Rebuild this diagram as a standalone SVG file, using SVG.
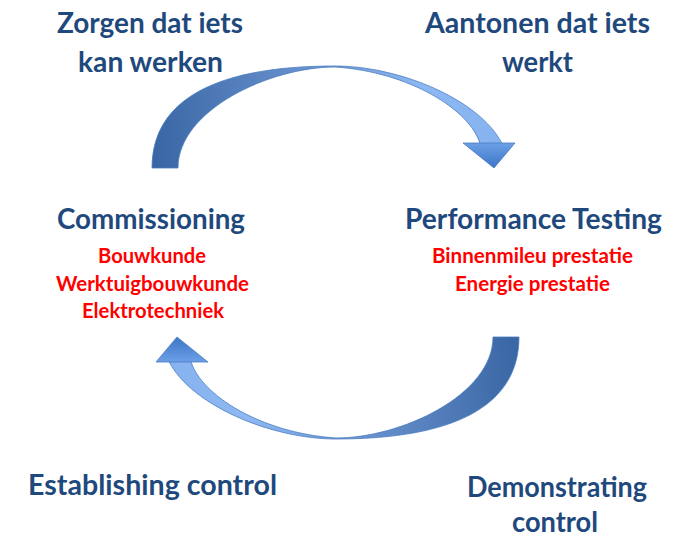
<svg xmlns="http://www.w3.org/2000/svg" width="686" height="538" viewBox="0 0 686 538">
<style>
.h{font-family:Lato,"Open Sans","Liberation Sans",sans-serif;font-weight:bold;font-size:28px;fill:#1F497D}
.r{font-family:Lato,"Open Sans","Liberation Sans",sans-serif;font-weight:bold;font-size:20px;fill:#FF0000}
.shaft{fill:url(#gs);stroke:#4a7cc0;stroke-width:0.8}
.head{fill:url(#gh);stroke:#4a7cc0;stroke-width:0.8}
</style>
<defs>
<linearGradient id="gs" gradientUnits="userSpaceOnUse" x1="152" y1="168" x2="500" y2="125">
<stop offset="0" stop-color="#3865a3"/>
<stop offset="0.45" stop-color="#6690cc"/>
<stop offset="0.8" stop-color="#8db8f3"/>
<stop offset="1" stop-color="#86b2ef"/>
</linearGradient>
<linearGradient id="gh" gradientUnits="userSpaceOnUse" x1="0" y1="143" x2="0" y2="168">
<stop offset="0" stop-color="#6c9fe6"/>
<stop offset="1" stop-color="#3c76c8"/>
</linearGradient>
<g id="arrow">
<path class="shaft" d="M152,168 C152,100 215,66 335,66 C400,66 480,100 502,143.5 L480,143.5 C470,110 410,72 335,67 C270,67 178,110 178,168 Z"/>
<path class="head" d="M463,143 L515,143 L494,168 Z"/>
</g>
</defs>
<g id="connectors">
<use href="#arrow"/>
<use href="#arrow" transform="rotate(180 335.5 252.5)"/>
</g>
<g id="zorgen">
<text class="h" x="57" y="33" textLength="186" lengthAdjust="spacingAndGlyphs">Zorgen dat iets</text>
<text class="h" x="78" y="72" textLength="145" lengthAdjust="spacingAndGlyphs">kan werken</text>
</g>
<g id="aantonen">
<text class="h" x="425" y="33" textLength="225" lengthAdjust="spacingAndGlyphs">Aantonen dat iets</text>
<text class="h" x="502" y="72" textLength="71" lengthAdjust="spacingAndGlyphs">werkt</text>
</g>
<g id="commissioning">
<text class="h" x="57" y="229" textLength="188" lengthAdjust="spacingAndGlyphs">Commissioning</text>
<text class="r" x="98" y="263" textLength="108" lengthAdjust="spacingAndGlyphs">Bouwkunde</text>
<text class="r" x="56" y="291" textLength="193" lengthAdjust="spacingAndGlyphs">Werktuigbouwkunde</text>
<text class="r" x="82" y="318" textLength="142" lengthAdjust="spacingAndGlyphs">Elektrotechniek</text>
</g>
<g id="performance">
<text class="h" x="405" y="229" textLength="257" lengthAdjust="spacingAndGlyphs">Performance Testing</text>
<text class="r" x="432" y="263" textLength="201" lengthAdjust="spacingAndGlyphs">Binnenmileu prestatie</text>
<text class="r" x="455" y="291" textLength="155" lengthAdjust="spacingAndGlyphs">Energie prestatie</text>
</g>
<g id="establishing">
<text class="h" x="28" y="495" textLength="249" lengthAdjust="spacingAndGlyphs">Establishing control</text>
</g>
<g id="demonstrating">
<text class="h" x="467" y="497" textLength="180" lengthAdjust="spacingAndGlyphs">Demonstrating</text>
<text class="h" x="512" y="532" textLength="86" lengthAdjust="spacingAndGlyphs">control</text>
</g>
</svg>
